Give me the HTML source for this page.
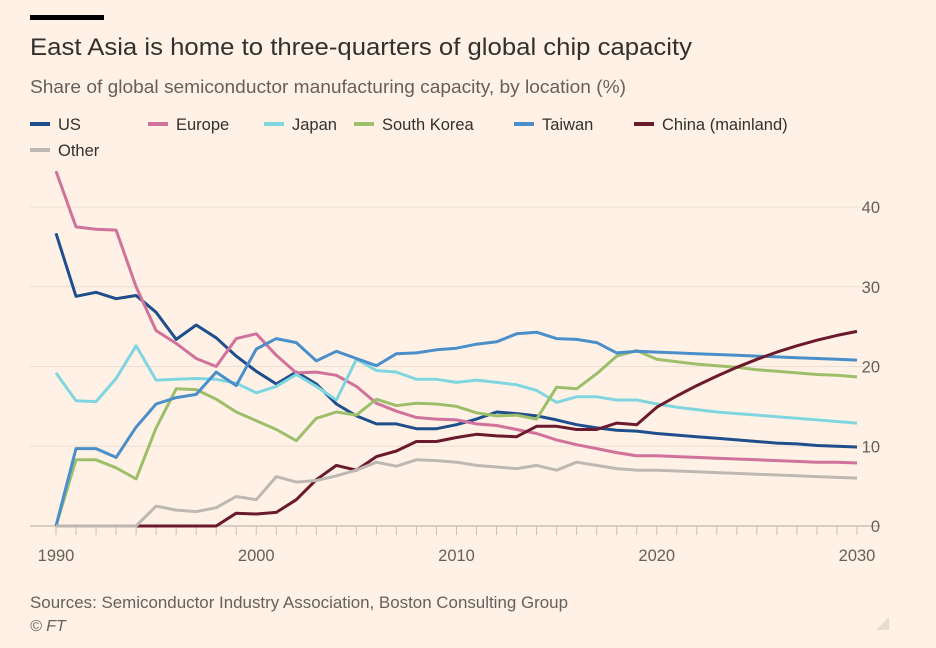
<!DOCTYPE html>
<html><head><meta charset="utf-8"><style>
body{margin:0;background:#fff1e5;width:936px;height:648px;overflow:hidden;font-family:"Liberation Sans",sans-serif;}
svg{position:absolute;left:0;top:0}
</style></head><body>
<svg width="936" height="648">
<rect x="30" y="15" width="74" height="5" fill="#000"/>
<text x="30" y="55" font-size="24.5" fill="#33302e" textLength="662" lengthAdjust="spacingAndGlyphs">East Asia is home to three-quarters of global chip capacity</text>
<text x="30" y="93" font-size="18" fill="#66605c" textLength="596" lengthAdjust="spacingAndGlyphs">Share of global semiconductor manufacturing capacity, by location (%)</text>
<g id="legend"></g>
<g id="grid"></g><g id="lines"></g>
<text x="30" y="608" font-size="17" fill="#66605c" textLength="538" lengthAdjust="spacingAndGlyphs">Sources: Semiconductor Industry Association, Boston Consulting Group</text>
<text x="30" y="631" font-size="16" font-style="italic" fill="#66605c">© FT</text>
<polygon points="889,617 889,630 876,630" fill="#e8dccf"/>
</svg>
<script>
const years=[];for(let y=1990;y<=2030;y++)years.push(y);
const yTicks=[0,10,20,30,40];
const xTicks=[1990,2000,2010,2020,2030];
const names=["US","Europe","Japan","South Korea","Taiwan","China (mainland)","Other"];
const colors=["#1f4e8c","#d0729a","#80d6e0","#9dbf6c","#4a8fc9","#6b1a2e","#bdb8b2"];
const us=[36.7,28.8,29.3,28.5,28.9,26.8,23.4,25.2,23.6,21.3,19.4,17.8,19.3,17.8,15.3,13.8,12.8,12.8,12.2,12.2,12.7,13.4,14.3,14.1,13.8,13.3,12.7,12.3,12.0,11.9,11.6,11.4,11.2,11.0,10.8,10.6,10.4,10.3,10.1,10.0,9.9];
const europe=[44.5,37.5,37.2,37.1,30,24.5,22.9,21.0,20.0,23.5,24.1,21.4,19.2,19.3,18.9,17.5,15.4,14.4,13.6,13.4,13.3,12.8,12.6,12.1,11.6,10.8,10.2,9.7,9.2,8.8,8.8,8.7,8.6,8.5,8.4,8.3,8.2,8.1,8.0,8.0,7.9];
const japan=[19.2,15.7,15.6,18.5,22.6,18.3,18.4,18.5,18.4,17.9,16.7,17.5,19.0,17.5,15.8,20.9,19.5,19.3,18.4,18.4,18.0,18.3,18.0,17.7,17.0,15.5,16.2,16.2,15.8,15.8,15.3,14.9,14.6,14.3,14.1,13.9,13.7,13.5,13.3,13.1,12.9];
const korea=[0,8.3,8.3,7.3,5.9,12.3,17.2,17.1,15.9,14.3,13.2,12.1,10.7,13.5,14.3,13.9,15.9,15.1,15.4,15.3,15.0,14.2,13.8,13.9,13.4,17.4,17.2,19.1,21.3,22.0,20.9,20.6,20.3,20.1,19.9,19.6,19.4,19.2,19.0,18.9,18.7];
const taiwan=[0,9.7,9.7,8.6,12.4,15.3,16.1,16.5,19.3,17.6,22.2,23.5,23.0,20.7,21.9,21.0,20.1,21.6,21.7,22.1,22.3,22.8,23.1,24.1,24.3,23.5,23.4,23.0,21.7,21.9,21.8,21.7,21.6,21.5,21.4,21.3,21.2,21.1,21.0,20.9,20.8];
const china=[0,0,0,0,0,0,0,0,0,1.6,1.5,1.7,3.3,5.8,7.6,7.0,8.7,9.4,10.6,10.6,11.1,11.5,11.3,11.2,12.5,12.5,12.1,12.1,12.9,12.7,14.9,16.3,17.6,18.8,19.9,20.9,21.8,22.6,23.3,23.9,24.4];
const other=[0,0,0,0,0,2.5,2.0,1.8,2.3,3.7,3.3,6.2,5.5,5.7,6.3,7.0,8.0,7.5,8.3,8.2,8.0,7.6,7.4,7.2,7.6,7.0,8.0,7.6,7.2,7.0,7.0,6.9,6.8,6.7,6.6,6.5,6.4,6.3,6.2,6.1,6.0];
const series=[us,europe,japan,korea,taiwan,china,other];
const NS="http://www.w3.org/2000/svg";
const X=y=>56+(y-1990)*(857-56)/40;
const Y=v=>526-v*(526-207)/40;
function mk(t,a,p){const e=document.createElementNS(NS,t);for(const k in a)e.setAttribute(k,a[k]);p.appendChild(e);return e;}
const grid=document.getElementById('grid');
yTicks.forEach(v=>{
 const l=mk('line',{x1:30,x2:880,y1:Y(v),y2:Y(v),stroke:v===0?'#b3a9a0':'#ebdfd3','stroke-width':1},grid);
 
 
 const t=mk('text',{x:880,y:Y(v)+6,'font-size':16.5,fill:'#66605c','text-anchor':'end'},grid);
 t.textContent=v;
 
 
});
years.forEach(y=>{
 const l=mk('line',{x1:X(y),x2:X(y),y1:526,y2:535,stroke:'#c9bfb5','stroke-width':1},grid);
 
 
});
xTicks.forEach(y=>{
 const t=mk('text',{x:X(y),y:561,'font-size':16.5,fill:'#66605c','text-anchor':'middle'},grid);
 t.textContent=y;
 
 
});
const lg=mk('g',{},document.getElementById('lines'));
series.forEach((s,i)=>{
 const d=s.map((v,j)=>(j?'L':'M')+X(years[j]).toFixed(1)+','+Y(v).toFixed(1)).join('');
 const p=mk('path',{d:d,fill:'none',stroke:colors[i],'stroke-width':3,'stroke-linejoin':'round'},lg);
 
 
});
const leg=document.getElementById('legend');
const lx=[30,148,264,354,514,634,30],ly=[124,124,124,124,124,124,150];
names.forEach((n,i)=>{
 const g=mk('g',{},leg);
 
 
 mk('line',{x1:lx[i],x2:lx[i]+20,y1:ly[i],y2:ly[i],stroke:colors[i],'stroke-width':4},g);
 const t=mk('text',{x:lx[i]+28,y:ly[i]+6,'font-size':16.5,fill:'#33302e'},g);
 t.textContent=n;
});
</script>
</body></html>
